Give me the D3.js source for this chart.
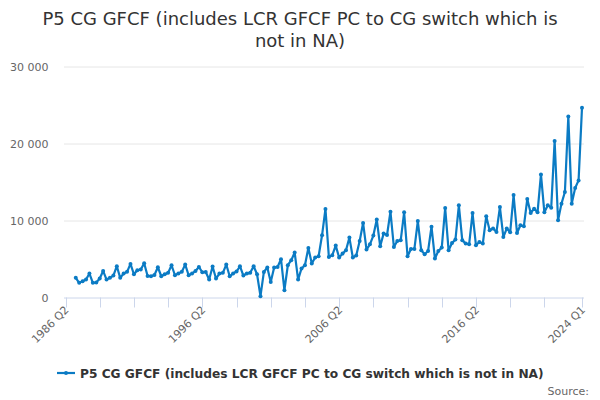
<!DOCTYPE html>
<html>
<head>
<meta charset="utf-8">
<script src="https://cdn.jsdelivr.net/npm/d3@7"></script>
<style>
  body { margin: 0; background: #fff; }
  text { font-family: "DejaVu Sans", Verdana, sans-serif; }
</style>
</head>
<body>
<script>
const width = 600;
const height = 400;

// quarter labels on the axis run 1986 Q2 .. 2024 Q1, values start 1987 Q1
const firstYear = 1986, firstQuarter = 2;
const lastYear = 2024, lastQuarter = 1;
const dataStart = "1987 Q1";

// P5 CG GFCF, £ million, quarterly from 1987 Q1
const values = [
  2550, 1900, 2110, 2330,   // 1987
  3110, 1900, 1950, 2460,   // 1988
  3450, 2330, 2550, 2850,   // 1989
  4060, 2550, 3110, 3330,   // 1990
  4360, 3020, 3540, 3630,   // 1991
  4450, 2800, 2760, 2930,   // 1992
  3930, 2760, 3020, 3200,   // 1993
  4190, 2890, 3110, 3330,   // 1994
  4280, 2890, 3110, 3450,   // 1995
  3970, 3280, 3320, 2330,   // 1996
  4020, 2460, 3110, 3200,   // 1997
  4280, 2760, 3110, 3370,   // 1998
  4060, 2850, 3110, 3200,   // 1999
  4060, 3020, 170, 3320,    // 2000
  3890, 2020, 3890, 3970,   // 2001
  4970, 950, 4190, 4840,    // 2002
  5840, 2330, 3760, 4190,   // 2003
  6440, 4410, 5190, 5360,   // 2004
  8080, 11500, 5250, 5500,  // 2005
  6740, 5190, 5700, 6130,   // 2006
  7780, 5190, 5450, 7340,   // 2007
  9680, 6230, 6910, 8040,   // 2008
  10120, 6650, 8300, 8120,  // 2009
  11150, 6560, 7340, 7430,  // 2010
  11060, 5360, 6300, 6300,  // 2011
  9930, 6130, 5620, 6040,   // 2012
  9200, 5060, 6040, 6480,   // 2013
  11620, 6130, 7080, 7520,  // 2014
  11970, 7430, 7000, 6910,  // 2015
  10970, 6780, 7210, 7000,  // 2016
  10540, 8730, 8950, 8510,  // 2017
  11750, 7860, 8950, 8470,  // 2018
  13310, 8380, 9380, 9250,  // 2019
  12790, 10970, 11540, 11060, // 2020
  15990, 11060, 11970, 11670, // 2021
  20310, 10030, 12190, 13700, // 2022
  23510, 12190, 14230, 15210, // 2023
  24640                     // 2024
];

const yTicks = [0, 10000, 20000, 30000];
const xLabels = ["1986 Q2", "1996 Q2", "2006 Q2", "2016 Q2", "2024 Q1"];

const title = ["P5 CG GFCF (includes LCR GFCF PC to CG switch which is", "not in NA)"];
const seriesName = "P5 CG GFCF (includes LCR GFCF PC to CG switch which is not in NA)";

// build category list
const categories = [];
for (let y = firstYear, q = firstQuarter; y < lastYear || (y === lastYear && q <= lastQuarter); ) {
  categories.push(y + " Q" + q);
  q++;
  if (q > 4) { q = 1; y++; }
}
const startIdx = categories.indexOf(dataStart);
const data = values.map((v, i) => ({ cat: categories[startIdx + i], value: v }));

const svg = d3.select("body").append("svg")
  .attr("width", width).attr("height", height);

const plotLeft = 64, plotRight = 584, plotTop = 66.5, plotBottom = 297.5;

const x = d3.scalePoint().domain(categories).range([65.5, 582]);
const y = d3.scaleLinear().domain([0, 30000]).range([plotBottom, plotTop]);

const fmt = d3.formatLocale({ decimal: ".", thousands: " ", grouping: [3], currency: ["", ""] }).format(",");

// title
svg.append("text")
  .attr("x", width / 2).attr("y", 25)
  .attr("text-anchor", "middle")
  .attr("fill", "#333").style("font-size", "18px")
  .selectAll("tspan").data(title).enter().append("tspan")
  .attr("x", width / 2).attr("dy", (d, i) => i ? 22 : 0)
  .text(d => d);

// grid + y labels
const grid = svg.append("g");
grid.selectAll("line").data(yTicks.filter(d => d > 0)).enter().append("line")
  .attr("x1", plotLeft).attr("x2", plotRight)
  .attr("y1", d => y(d) + 0.5).attr("y2", d => y(d) + 0.5)
  .attr("stroke", "#e6e6e6");
grid.selectAll("text").data(yTicks).enter().append("text")
  .attr("x", 48.5).attr("y", d => y(d) + 4)
  .attr("text-anchor", "end")
  .attr("fill", "#666").style("font-size", "11px")
  .text(d => fmt(d));

// x axis
const xAxis = svg.append("g");
xAxis.append("line")
  .attr("x1", plotLeft).attr("x2", plotRight)
  .attr("y1", plotBottom + 0.5).attr("y2", plotBottom + 0.5)
  .attr("stroke", "#ccd6eb");
const tickCats = categories.filter((c, i) => i % 10 === 0 && i <= 140).concat([categories[categories.length - 1]]);
xAxis.selectAll(".tick").data(tickCats).enter().append("line")
  .attr("class", "tick")
  .attr("x1", d => Math.round(x(d)) + 0.5).attr("x2", d => Math.round(x(d)) + 0.5)
  .attr("y1", plotBottom).attr("y2", plotBottom + 10)
  .attr("stroke", "#ccd6eb");
xAxis.selectAll("text").data(xLabels).enter().append("text")
  .attr("transform", d => `translate(${x(d) + 4},${plotBottom + 13}) rotate(-45)`)
  .attr("text-anchor", "end")
  .attr("fill", "#666").style("font-size", "11px")
  .text(d => d);

// series
const color = "#0b7bc4";
const line = d3.line().x(d => x(d.cat)).y(d => y(d.value));
svg.append("path").datum(data)
  .attr("d", line)
  .attr("fill", "none").attr("stroke", color)
  .attr("stroke-width", 2.2).attr("stroke-linejoin", "round");
svg.append("g").selectAll("circle").data(data).enter().append("circle")
  .attr("cx", d => x(d.cat)).attr("cy", d => y(d.value))
  .attr("r", 2).attr("fill", color);

// legend
const legend = svg.append("g").attr("transform", "translate(0,373)");
legend.append("line").attr("x1", 57).attr("x2", 75).attr("y1", 0).attr("y2", 0)
  .attr("stroke", color).attr("stroke-width", 2.2);
legend.append("circle").attr("cx", 66).attr("cy", 0).attr("r", 2).attr("fill", color);
legend.append("text").attr("x", 80).attr("y", 4.5)
  .attr("fill", "#333").style("font-size", "12.2px").style("font-weight", "bold")
  .text(seriesName);

// credits
svg.append("text").attr("x", 589).attr("y", 395)
  .attr("text-anchor", "end").attr("fill", "#666").style("font-size", "11px")
  .text("Source:");
</script>
</body>
</html>
